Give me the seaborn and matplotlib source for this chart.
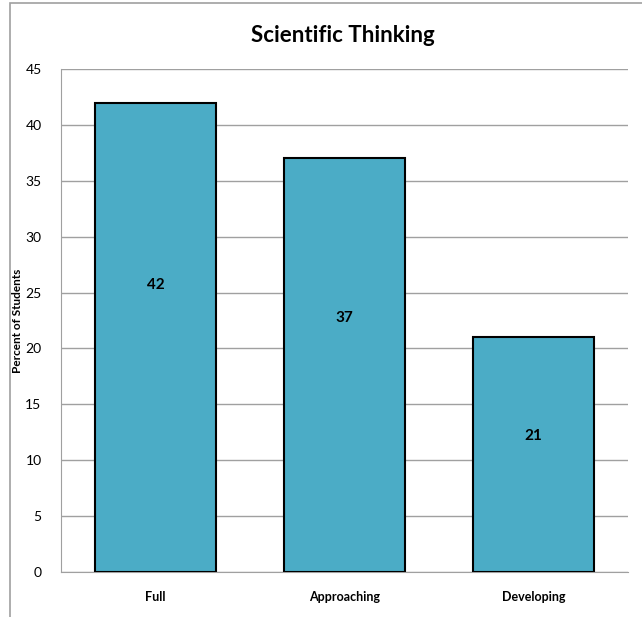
import matplotlib
matplotlib.use("Agg")
import matplotlib.pyplot as plt
import seaborn as sns
import pandas as pd
from matplotlib.patches import Rectangle

# data
categories = ["Full", "Approaching", "Developing"]
percents = [42, 37, 21]
yticks = [0, 5, 10, 15, 20, 25, 30, 35, 40, 45]
# heights where the value labels sit inside the bars (as in the original)
label_y = [25.7, 22.7, 12.2]

sns.set_style("white")
plt.rcParams['font.family'] = ['Lato', 'DejaVu Sans']
plt.rcParams['text.color'] = 'black'
plt.rcParams['axes.labelcolor'] = 'black'
plt.rcParams['xtick.color'] = 'black'
plt.rcParams['ytick.color'] = 'black'

df = pd.DataFrame({"cat": categories, "pct": percents})

fig = plt.figure(figsize=(6.42, 6.17), dpi=100)
ax = fig.add_axes([61/642, 45/617, (628-61)/642, (572-69)/617])

sns.barplot(data=df, x="cat", y="pct", color="#4BACC6", saturation=1,
            width=0.645, edgecolor="black", linewidth=1.5, ax=ax, zorder=3)

ax.set_ylim(0, 45)
ax.set_yticks(yticks)
ax.set_xlim(-0.5, 2.5)
ax.yaxis.grid(True, color="#a0a0a0", linewidth=1, zorder=0)
ax.set_axisbelow(True)
for s in ["top", "right"]:
    ax.spines[s].set_visible(False)
ax.spines["left"].set_color("#a0a0a0")
ax.spines["bottom"].set_color("#a0a0a0")
ax.tick_params(axis="y", labelsize=10, length=0, pad=14)
ax.tick_params(axis="x", labelsize=9, length=0, pad=14)
for t in ax.get_xticklabels():
    t.set_fontweight("bold")
ax.set_xlabel("")
ax.set_ylabel("Percent of Students", fontsize=8.5, fontweight="bold", labelpad=2)

for i, v in enumerate(percents):
    ax.text(i, label_y[i], str(v), ha="center", va="center", fontsize=11,
            fontweight="bold", zorder=4)

fig.text(343/642, 1 - 35/617, "Scientific Thinking", ha="center", va="center",
         fontsize=16, fontweight="bold")

# outer chart frame
fig.patches.append(Rectangle((10/642, -0.1), 1.2, 1 - 3/617 + 0.1,
                             transform=fig.transFigure, fill=False,
                             edgecolor="#a0a0a0", linewidth=1.2))

fig.savefig("out.png", dpi=100)
